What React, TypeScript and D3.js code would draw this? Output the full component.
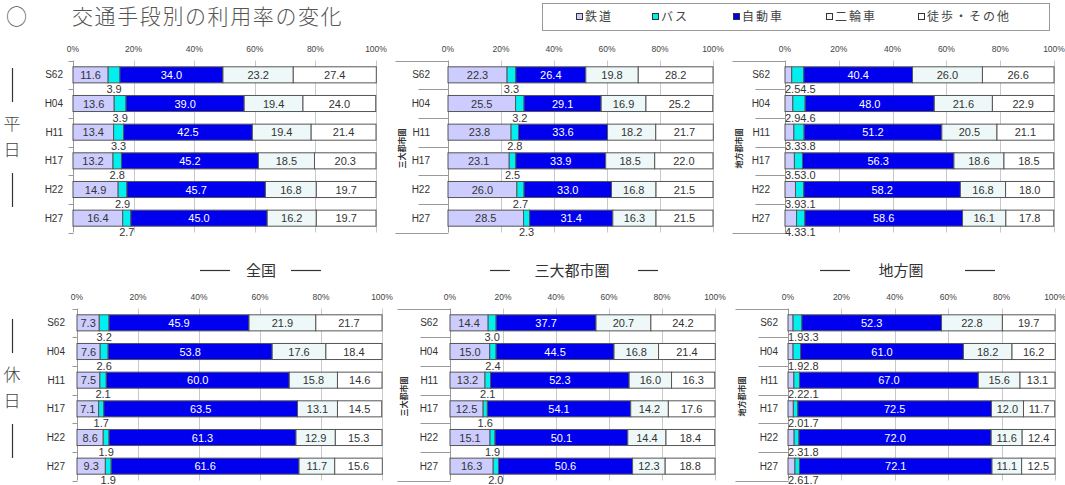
import React, { useEffect, useRef } from 'react'
import * as d3 from 'd3'

// survey years (rows) and travel modes (stack order)
const categories = ['S62', 'H04', 'H11', 'H17', 'H22', 'H27']
const modes = ['鉄道', 'バス', '自動車', '二輪車', '徒歩・その他']
const modeColors = ['#ccccff', '#00f0f0', '#0000ee', '#eef8f8', '#ffffff']
const tickValues = [0, 20, 40, 60, 80, 100]

// each array: one row per mode, one value per year (%)
const weekdayNational = [
  [11.6, 13.6, 13.4, 13.2, 14.9, 16.4],
  [3.9, 3.9, 3.3, 2.8, 2.9, 2.7],
  [34.0, 39.0, 42.5, 45.2, 45.7, 45.0],
  [23.2, 19.4, 19.4, 18.5, 16.8, 16.2],
  [27.4, 24.0, 21.4, 20.3, 19.7, 19.7]
]
const weekdayMetro = [
  [22.3, 25.5, 23.8, 23.1, 26.0, 28.5],
  [3.3, 3.2, 2.8, 2.5, 2.7, 2.3],
  [26.4, 29.1, 33.6, 33.9, 33.0, 31.4],
  [19.8, 16.9, 18.2, 18.5, 16.8, 16.3],
  [28.2, 25.2, 21.7, 22.0, 21.5, 21.5]
]
const weekdayLocal = [
  [2.5, 2.9, 3.3, 3.5, 3.9, 4.3],
  [4.5, 4.6, 3.8, 3.0, 3.1, 3.1],
  [40.4, 48.0, 51.2, 56.3, 58.2, 58.6],
  [26.0, 21.6, 20.5, 18.6, 16.8, 16.1],
  [26.6, 22.9, 21.1, 18.5, 18.0, 17.8]
]
const holidayNational = [
  [7.3, 7.6, 7.5, 7.1, 8.6, 9.3],
  [3.2, 2.6, 2.1, 1.7, 1.9, 1.9],
  [45.9, 53.8, 60.0, 63.5, 61.3, 61.6],
  [21.9, 17.6, 15.8, 13.1, 12.9, 11.7],
  [21.7, 18.4, 14.6, 14.5, 15.3, 15.6]
]
const holidayMetro = [
  [14.4, 15.0, 13.2, 12.5, 15.1, 16.3],
  [3.0, 2.4, 2.1, 1.6, 1.9, 2.0],
  [37.7, 44.5, 52.3, 54.1, 50.1, 50.6],
  [20.7, 16.8, 16.0, 14.2, 14.4, 12.3],
  [24.2, 21.4, 16.3, 17.6, 18.4, 18.8]
]
const holidayLocal = [
  [1.9, 1.9, 2.2, 2.0, 2.3, 2.6],
  [3.3, 2.8, 2.1, 1.7, 1.8, 1.7],
  [52.3, 61.0, 67.0, 72.5, 72.0, 72.1],
  [22.8, 18.2, 15.6, 12.0, 11.6, 11.1],
  [19.7, 16.2, 13.1, 11.7, 12.4, 12.5]
]

const FONT = '"Liberation Sans", Arial, sans-serif'
const JFONT = '"Noto Sans CJK JP", sans-serif'

const panels = [
  { data: weekdayNational, x0: 73, x1: 376, top: 60.5, bottom: 232.5, group: null, gap: 10 },
  { data: weekdayMetro, x0: 448, x1: 713, top: 60.5, bottom: 232.5, group: '三大都市圏', gap: 18 },
  { data: weekdayLocal, x0: 785, x1: 1054, top: 60.5, bottom: 232.5, group: '地方都市圏', gap: 15 },
  { data: holidayNational, x0: 77, x1: 382, top: 308.5, bottom: 480.5, group: null, gap: 12 },
  { data: holidayMetro, x0: 450, x1: 715, top: 308.5, bottom: 480.5, group: '三大都市圏', gap: 12 },
  { data: holidayLocal, x0: 788, x1: 1055, top: 308.5, bottom: 480.5, group: '地方都市圏', gap: 10 }
]

function drawPanel (svg, p) {
  const x = d3.scaleLinear().domain([0, 100]).range([p.x0, p.x1])
  const y = d3.scaleBand().domain(categories).range([p.top, p.bottom])
    .paddingInner(0.44).paddingOuter(0.22)
  const step = y.step()
  const g = svg.append('g')

  // gridlines
  g.selectAll('line.grid').data(tickValues.slice(1)).enter().append('line')
    .attr('x1', d => Math.round(x(d)) + 0.5).attr('x2', d => Math.round(x(d)) + 0.5)
    .attr('y1', p.top).attr('y2', p.bottom)
    .attr('stroke', '#c8c8c8')
  g.selectAll('text.tick').data(tickValues).enter().append('text')
    .attr('x', d => x(d)).attr('y', p.top - 9)
    .attr('text-anchor', 'middle')
    .attr('font-family', FONT).attr('font-size', 8.5).attr('fill', '#444')
    .text(d => d + '%')

  // category axis
  const ax = Math.round(p.x0) + 0.5
  g.append('line').attr('x1', ax).attr('x2', ax).attr('y1', p.top).attr('y2', p.bottom)
    .attr('stroke', '#999')
  const bounds = d3.range(categories.length + 1).map(i => p.top + i * step)
  g.selectAll('line.tk').data(bounds).enter().append('line')
    .attr('x1', (d, i) => {
      if (!p.group) return ax - 5
      return (i === 0 || i === categories.length) ? ax - 53 : ax - 30
    })
    .attr('x2', ax)
    .attr('y1', d => Math.round(d) + 0.5).attr('y2', d => Math.round(d) + 0.5)
    .attr('stroke', '#999')
  g.selectAll('text.cat').data(categories).enter().append('text')
    .attr('x', p.x0 - p.gap).attr('y', d => y(d) + y.bandwidth() / 2 + 3.5)
    .attr('text-anchor', 'end')
    .attr('font-family', FONT).attr('font-size', 10).attr('fill', '#333')
    .text(d => d)

  if (p.group) {
    const cx = p.x0 - 46
    const cy = (p.top + p.bottom) / 2 + 2
    g.append('text')
      .attr('transform', `translate(${cx},${cy}) rotate(-90)`)
      .attr('text-anchor', 'middle').attr('dy', 3)
      .attr('font-family', JFONT).attr('font-size', 8).attr('font-weight', 'bold')
      .attr('fill', '#333')
      .text(p.group)
  }

  // stacked bars
  const rows = categories.map((c, i) => {
    const r = { cat: c }
    modes.forEach((m, k) => { r[m] = p.data[k][i] })
    return r
  })
  const series = d3.stack().keys(modes)(rows)

  series.forEach((s, k) => {
    g.selectAll(null).data(s).enter().append('rect')
      .attr('x', d => x(d[0])).attr('y', d => y(d.data.cat))
      .attr('width', d => x(d[1]) - x(d[0])).attr('height', y.bandwidth())
      .attr('fill', modeColors[k]).attr('stroke', '#555').attr('stroke-width', 1)
  })

  // value labels
  categories.forEach((c, i) => {
    let cursor = p.x0
    series.forEach((s, k) => {
      const d = s[i]
      const v = d[1] - d[0]
      const label = p.data[k][i].toFixed(1)
      const cx = (x(d[0]) + x(d[1])) / 2
      if (v >= 5) {
        g.append('text')
          .attr('x', cx).attr('y', y(c) + y.bandwidth() / 2 + 4)
          .attr('text-anchor', 'middle')
          .attr('font-family', FONT).attr('font-size', 11)
          .attr('fill', k === 2 ? '#fff' : '#333')
          .text(label)
      } else {
        // small shares go under the bar, pushed right so they never overlap
        const t = g.append('text')
          .attr('y', y(c) + y.bandwidth() + 10)
          .attr('font-family', FONT).attr('font-size', 11)
          .attr('fill', '#333')
          .text(label)
        const w = t.node().getComputedTextLength()
        const left = Math.max(cursor, cx - w / 2)
        t.attr('x', left)
        cursor = left + w
      }
    })
  })
}

export default function App () {
  const ref = useRef(null)

  useEffect(() => {
    const svg = d3.select(ref.current)
    svg.selectAll('*').remove()

    svg.append('rect').attr('width', 1065).attr('height', 485).attr('fill', '#fff')

    // title
    svg.append('text').attr('x', 6).attr('y', 24)
      .attr('font-family', JFONT).attr('font-size', 21).attr('font-weight', 300).attr('fill', '#555')
      .text('○')
    svg.append('text').attr('x', 72).attr('y', 24)
      .attr('font-family', JFONT).attr('font-size', 21).attr('font-weight', 300).attr('fill', '#555')
      .attr('letter-spacing', 1.6)
      .text('交通手段別の利用率の変化')

    // legend
    svg.append('rect').attr('x', 542.5).attr('y', 3.5).attr('width', 507).attr('height', 27)
      .attr('fill', '#fff').attr('stroke', '#999')
    const legendX = [576, 652, 733, 826, 918]
    modes.forEach((m, k) => {
      svg.append('rect').attr('x', legendX[k] + 0.5).attr('y', 13.5).attr('width', 6).attr('height', 6)
        .attr('fill', modeColors[k]).attr('stroke', '#333')
      svg.append('text').attr('x', legendX[k] + 9).attr('y', 21)
        .attr('font-family', JFONT).attr('font-size', 12).attr('letter-spacing', 2)
        .attr('fill', '#444').text(m)
    })

    panels.forEach(p => drawPanel(svg, p))

    // region captions between the rows
    const captions = [
      { text: '全国', cx: 261, dl: [200, 230], dr: [291, 321] },
      { text: '三大都市圏', cx: 572, dl: [490, 510], dr: [638, 658] },
      { text: '地方圏', cx: 901, dl: [820, 850], dr: [965, 995] }
    ]
    captions.forEach(c => {
      svg.append('text').attr('x', c.cx).attr('y', 276)
        .attr('text-anchor', 'middle')
        .attr('font-family', JFONT).attr('font-size', 15).attr('fill', '#333')
        .text(c.text)
      ;[c.dl, c.dr].forEach(dd => {
        svg.append('line').attr('x1', dd[0]).attr('x2', dd[1]).attr('y1', 270.5).attr('y2', 270.5)
          .attr('stroke', '#333').attr('stroke-width', 1.2)
      })
    })

    // side labels 平日 / 休日
    const sides = [
      { chars: ['平', '日'], mid: 137 },
      { chars: ['休', '日'], mid: 388 }
    ]
    sides.forEach(s => {
      svg.append('line').attr('x1', 12.5).attr('x2', 12.5).attr('y1', s.mid - 69).attr('y2', s.mid - 35)
        .attr('stroke', '#333').attr('stroke-width', 1.2)
      svg.append('line').attr('x1', 12.5).attr('x2', 12.5).attr('y1', s.mid + 36).attr('y2', s.mid + 70)
        .attr('stroke', '#333').attr('stroke-width', 1.2)
      s.chars.forEach((ch, i) => {
        svg.append('text').attr('x', 12).attr('y', s.mid - 7 + i * 26)
          .attr('text-anchor', 'middle')
          .attr('font-family', JFONT).attr('font-size', 17).attr('font-weight', 300).attr('fill', '#444')
          .text(ch)
      })
    })
  }, [])

  return (
    <svg ref={ref} width={1065} height={485}
      style={{ position: 'absolute', left: 0, top: 0, display: 'block' }} />
  )
}
